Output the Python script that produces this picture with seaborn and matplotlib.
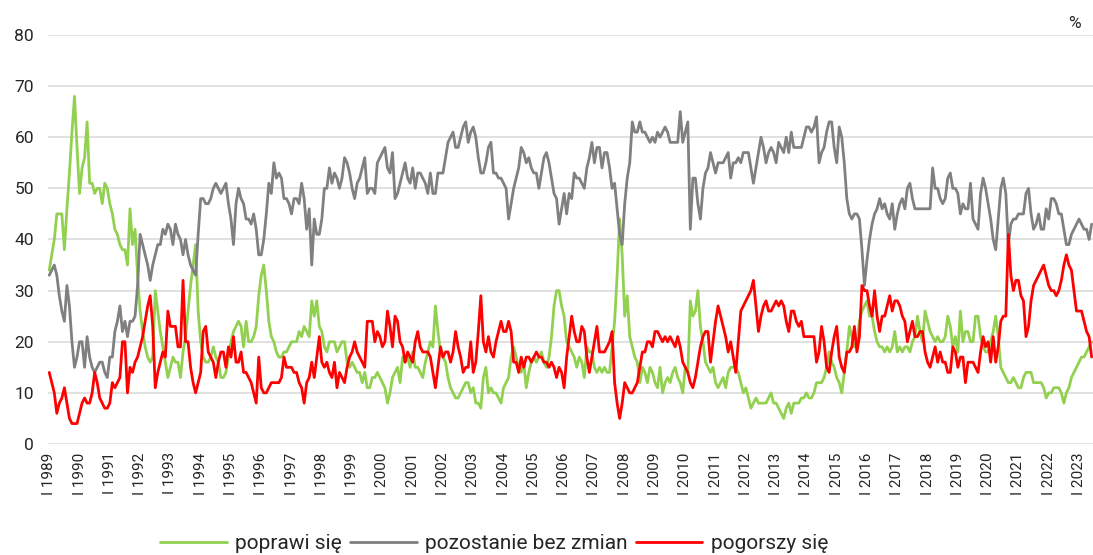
import matplotlib
matplotlib.use("Agg")
import matplotlib.pyplot as plt
import seaborn as sns
import pandas as pd
import numpy as np

# miesięczne odczyty, I 1989 - VI 2023
first_year = 1989
series_names = ["poprawi się", "pozostanie bez zmian", "pogorszy się"]
series_colors = ["#92D050", "#808080", "#FF0000"]

poprawi = [
    34, 37, 40, 45, 45, 45, 38, 46, 53, 61, 68, 58,  # 1989
    49, 54, 56, 63, 51, 51, 49, 50, 50, 47, 51, 50,  # 1990
    47, 45, 42, 41, 39, 38, 38, 35, 46, 39, 42, 33,  # 1991
    26, 22, 19, 17, 16, 17, 30, 26, 22, 19, 16, 13,  # 1992
    15, 17, 16, 16, 13, 18, 21, 26, 31, 35, 39, 26,  # 1993
    20, 17, 16, 16, 17, 19, 17, 16, 13, 13, 14, 17,  # 1994
    20, 22, 23, 24, 23, 19, 24, 20, 20, 21, 23, 29,  # 1995
    33, 35, 30, 24, 21, 20, 18, 17, 17, 18, 18, 19,  # 1996
    20, 20, 20, 22, 21, 23, 22, 21, 28, 25, 28, 23,  # 1997
    22, 19, 18, 20, 20, 20, 18, 19, 20, 20, 16, 15,  # 1998
    16, 15, 14, 14, 12, 14, 11, 11, 13, 13, 14, 13,  # 1999
    12, 11, 8, 10, 13, 14, 15, 12, 17, 16, 17, 15,  # 2000
    18, 15, 15, 14, 13, 16, 18, 20, 19, 27, 22, 18,  # 2001
    17, 16, 13, 11, 10, 9, 9, 10, 11, 12, 12, 10,  # 2002
    11, 8, 8, 7, 13, 15, 10, 11, 10, 10, 9, 8,  # 2003
    11, 12, 13, 17, 19, 17, 15, 14, 16, 11, 14, 16,  # 2004
    17, 16, 17, 18, 16, 15, 17, 21, 27, 30, 30, 27,  # 2005
    25, 20, 19, 18, 17, 15, 17, 16, 13, 19, 18, 18,  # 2006
    15, 14, 15, 14, 15, 14, 14, 19, 24, 33, 44, 37,  # 2007
    25, 29, 21, 19, 17, 16, 12, 15, 14, 12, 15, 14,  # 2008
    12, 11, 15, 10, 12, 13, 12, 14, 15, 13, 12, 10,  # 2009
    15, 14, 28, 25, 26, 30, 23, 20, 16, 15, 14, 15,  # 2010
    12, 11, 12, 13, 11, 14, 15, 15, 15, 14, 12, 10,  # 2011
    11, 9, 7, 8, 9, 8, 8, 8, 8, 9, 10, 8,  # 2012
    8, 7, 6, 5, 7, 8, 6, 8, 8, 8, 9, 9,  # 2013
    10, 9, 9, 10, 12, 12, 12, 13, 15, 18, 16, 15,  # 2014
    13, 12, 10, 14, 18, 23, 21, 19, 20, 24, 26, 27,  # 2015
    28, 25, 25, 22, 20, 19, 19, 18, 19, 18, 19, 22,  # 2016
    18, 19, 18, 19, 19, 18, 20, 21, 25, 22, 20, 26,  # 2017
    24, 22, 21, 20, 21, 20, 20, 21, 25, 23, 19, 21,  # 2018
    18, 26, 20, 22, 22, 20, 20, 25, 25, 21, 19, 18,  # 2019
    18, 20, 22, 25, 21, 15, 14, 13, 12, 12, 13, 12,  # 2020
    11, 11, 13, 14, 14, 14, 12, 12, 12, 12, 11, 9,  # 2021
    10, 10, 11, 11, 11, 10, 8, 10, 11, 13, 14, 15,  # 2022
    16, 17, 17, 18, 19, 20,  # 2023
]

bez_zmian = [
    33, 34, 35, 33, 29, 26, 24, 31, 27, 20, 15, 17,  # 1989
    20, 20, 15, 21, 17, 15, 14, 15, 16, 16, 14, 13,  # 1990
    17, 17, 22, 24, 27, 22, 24, 21, 24, 24, 25, 31,  # 1991
    41, 39, 37, 35, 32, 35, 37, 39, 39, 42, 41, 43,  # 1992
    42, 39, 43, 41, 40, 37, 40, 37, 35, 34, 33, 41,  # 1993
    48, 48, 47, 47, 48, 50, 51, 50, 49, 50, 51, 47,  # 1994
    44, 39, 47, 50, 48, 47, 44, 44, 43, 45, 42, 37,  # 1995
    37, 40, 45, 51, 49, 55, 52, 53, 52, 48, 48, 47,  # 1996
    45, 48, 48, 47, 51, 48, 42, 46, 35, 44, 41, 41,  # 1997
    44, 50, 50, 54, 51, 53, 52, 50, 52, 56, 55, 53,  # 1998
    50, 48, 51, 52, 54, 56, 49, 50, 50, 49, 55, 56,  # 1999
    57, 58, 54, 53, 57, 48, 49, 51, 53, 55, 52, 51,  # 2000
    54, 50, 53, 53, 52, 51, 49, 53, 49, 49, 53, 53,  # 2001
    53, 56, 59, 60, 61, 58, 58, 60, 62, 63, 59, 61,  # 2002
    62, 60, 56, 53, 53, 55, 58, 59, 53, 53, 52, 52,  # 2003
    51, 50, 44, 47, 50, 52, 54, 58, 57, 55, 56, 54,  # 2004
    53, 53, 50, 53, 56, 57, 55, 52, 49, 48, 43, 46,  # 2005
    49, 45, 49, 48, 53, 52, 52, 51, 50, 54, 56, 59,  # 2006
    55, 58, 58, 54, 57, 57, 54, 50, 51, 46, 41, 39,  # 2007
    47, 52, 55, 63, 61, 61, 63, 61, 61, 60, 59, 60,  # 2008
    59, 61, 60, 61, 62, 61, 59, 59, 59, 59, 65, 59,  # 2009
    61, 63, 42, 52, 52, 47, 44, 50, 53, 54, 57, 55,  # 2010
    53, 55, 55, 55, 56, 57, 52, 55, 55, 56, 55, 57,  # 2011
    57, 57, 54, 51, 54, 57, 60, 58, 55, 57, 58, 57,  # 2012
    55, 59, 58, 57, 60, 57, 61, 58, 58, 58, 58, 60,  # 2013
    62, 62, 61, 62, 64, 55, 57, 58, 61, 63, 63, 58,  # 2014
    55, 62, 60, 55, 48, 45, 44, 45, 45, 44, 38, 31,  # 2015
    36, 40, 43, 45, 46, 48, 46, 47, 45, 44, 47, 42,  # 2016
    45, 47, 48, 46, 50, 51, 48, 46, 46, 46, 46, 46,  # 2017
    46, 46, 54, 50, 50, 48, 47, 48, 52, 53, 50, 50,  # 2018
    49, 45, 47, 46, 46, 51, 44, 43, 42, 49, 52, 50,  # 2019
    47, 44, 40, 38, 44, 50, 52, 49, 39, 43, 44, 44,  # 2020
    45, 45, 45, 49, 50, 45, 42, 43, 45, 42, 42, 46,  # 2021
    44, 48, 48, 47, 45, 45, 42, 39, 39, 41, 42, 43,  # 2022
    44, 43, 42, 42, 40, 43,  # 2023
]

pogorszy = [
    14, 12, 10, 6, 8, 9, 11, 8, 5, 4, 4, 4,  # 1989
    6, 8, 9, 8, 8, 10, 14, 12, 9, 8, 7, 7,  # 1990
    8, 12, 11, 12, 13, 20, 20, 10, 15, 14, 16, 17,  # 1991
    19, 21, 24, 27, 29, 23, 11, 14, 16, 18, 17, 26,  # 1992
    23, 23, 23, 19, 19, 32, 20, 20, 15, 12, 10, 12,  # 1993
    14, 22, 23, 18, 17, 16, 13, 16, 18, 18, 15, 19,  # 1994
    17, 21, 16, 16, 18, 14, 14, 13, 12, 10, 8, 17,  # 1995
    11, 10, 10, 11, 12, 12, 12, 12, 13, 17, 15, 15,  # 1996
    15, 14, 14, 12, 11, 8, 12, 13, 16, 13, 17, 21,  # 1997
    16, 15, 16, 14, 13, 16, 11, 14, 13, 12, 15, 17,  # 1998
    18, 20, 18, 17, 16, 15, 24, 24, 24, 20, 22, 21,  # 1999
    19, 20, 26, 23, 19, 25, 24, 20, 19, 16, 18, 17,  # 2000
    16, 20, 22, 19, 18, 18, 18, 17, 14, 11, 15, 19,  # 2001
    17, 18, 18, 16, 18, 22, 19, 17, 14, 15, 15, 20,  # 2002
    14, 16, 22, 29, 20, 18, 21, 18, 17, 20, 22, 24,  # 2003
    22, 22, 24, 22, 16, 16, 14, 17, 15, 17, 17, 16,  # 2004
    17, 18, 17, 17, 16, 16, 15, 16, 15, 13, 15, 14,  # 2005
    11, 17, 21, 25, 22, 20, 20, 23, 22, 17, 14, 17,  # 2006
    20, 23, 18, 18, 18, 19, 20, 22, 12, 8, 5, 8,  # 2007
    12, 11, 10, 10, 11, 12, 15, 18, 18, 20, 20, 19,  # 2008
    22, 22, 21, 20, 21, 20, 21, 20, 19, 21, 19, 16,  # 2009
    15, 14, 12, 11, 13, 16, 19, 21, 22, 22, 16, 20,  # 2010
    24, 27, 25, 23, 21, 18, 20, 17, 14, 20, 26, 27,  # 2011
    28, 29, 30, 32, 27, 22, 25, 27, 28, 26, 26, 27,  # 2012
    28, 27, 28, 27, 24, 22, 26, 26, 24, 23, 24, 21,  # 2013
    21, 21, 21, 21, 16, 18, 23, 20, 15, 14, 18, 21,  # 2014
    23, 17, 15, 14, 18, 18, 19, 23, 18, 21, 31, 30,  # 2015
    30, 27, 25, 30, 25, 22, 25, 25, 27, 29, 26, 28,  # 2016
    28, 27, 25, 24, 20, 22, 24, 21, 21, 22, 22, 18,  # 2017
    16, 15, 17, 19, 16, 18, 16, 16, 14, 14, 19, 18,  # 2018
    15, 17, 17, 12, 16, 16, 16, 15, 14, 18, 21, 19,  # 2019
    20, 16, 21, 16, 19, 24, 25, 25, 41, 33, 30, 32,  # 2020
    32, 29, 28, 21, 23, 28, 31, 32, 33, 34, 35, 33,  # 2021
    31, 30, 30, 29, 30, 32, 35, 37, 35, 34, 30, 26,  # 2022
    26, 26, 24, 22, 21, 17,  # 2023
]

n = len(poprawi)
df = pd.DataFrame({
    "miesiac": np.arange(n),
    series_names[0]: poprawi,
    series_names[1]: bez_zmian,
    series_names[2]: pogorszy,
}).melt(id_vars="miesiac", var_name="seria", value_name="proc")

sns.set_theme(style="white")
plt.rcParams['font.family'] = ['Roboto', 'DejaVu Sans']

fig = plt.figure(figsize=(10.93, 5.55), dpi=100)
ax = fig.add_axes([0.0439, 0.2, 0.956, 0.737])

sns.lineplot(data=df, x="miesiac", y="proc", hue="seria",
             palette=dict(zip(series_names, series_colors)),
             hue_order=series_names, lw=2, ax=ax)

ax.set_xlim(-0.5, n - 0.5)
ax.set_ylim(0, 80)
ax.set_yticks(range(0, 81, 10))
years = list(range(first_year, first_year + (n - 1) // 12 + 1))
ax.set_xticks([12 * (y - first_year) for y in years])
ax.set_xticklabels([f"I {y}" for y in years], rotation=90)
ax.tick_params(axis="x", length=0, pad=6, labelsize=11, colors="#262626")
ax.tick_params(axis="y", length=0, pad=10, labelsize=12.5, colors="#262626")
ax.grid(axis="y", color="#D9D9D9", lw=1.1)
ax.set_xlabel("")
ax.set_ylabel("")
for s in ax.spines.values():
    s.set_visible(False)

# legenda pod wykresem, lekko w lewo od środka
sns.move_legend(ax, "center", bbox_to_anchor=(0.452, 0.02),
                bbox_transform=fig.transFigure, ncol=3, frameon=False,
                title=None, fontsize=15, handlelength=3.2,
                handletextpad=0.4, columnspacing=0.4, borderaxespad=0)

fig.text(0.983, 0.958, "%", ha="center", va="center", fontsize=12.5, color="#262626")

fig.savefig("out.png", dpi=100)
